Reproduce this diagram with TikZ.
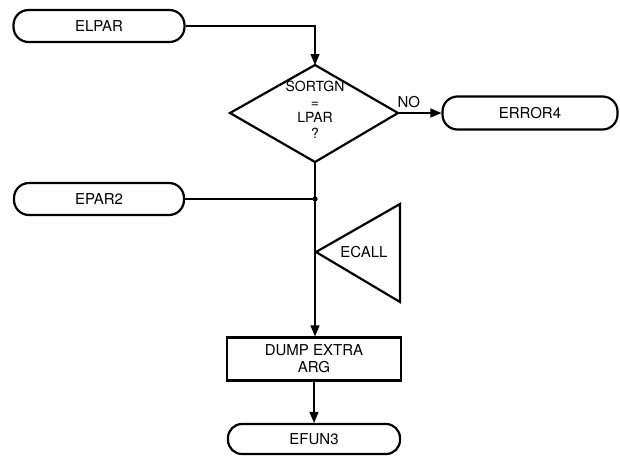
\documentclass[tikz,border=0pt]{standalone}
\usepackage{fontspec}
\setmainfont{TeX Gyre Heros}
\usetikzlibrary{arrows.meta,calc}
\begin{document}
\begin{tikzpicture}[x=1pt,y=-1pt,
  line width=2.2pt,
  every node/.style={font=\fontsize{15}{16}\selectfont},
  term/.style={draw,rounded corners=15pt,minimum width=171pt,minimum height=32pt,inner sep=0pt},
  procbox/.style={draw,minimum width=174pt,minimum height=43pt,inner sep=0pt,align=center},
  flow/.style={-{Triangle[length=11pt,width=9pt]}},
  plain/.style={line width=1.3pt}]
\useasboundingbox (0,0) rectangle (620,458);
\node[term] (elpar) at (99,26) {ELPAR};
\node[term,minimum width=175pt,minimum height=33pt] (err) at (530,113) {ERROR4};
\node[term,minimum width=170pt] (epar) at (99,199) {EPAR2};
\node[term,minimum width=172pt,minimum height=30pt,rounded corners=14pt] (efun) at (314,439) {EFUN3};
\node[procbox,font=\fontsize{15}{17}\selectfont] (dump) at (314,359) {DUMP EXTRA\\ARG};
% diamond
\coordinate (dt) at (315,65);
\coordinate (db) at (315,162);
\coordinate (dl) at (230,113);
\coordinate (dr) at (398,113);
\draw (dt) -- (dr) -- (db) -- (dl) -- cycle;
\node[align=center,inner sep=0pt,font=\fontsize{14}{15.5}\selectfont] (dlab) at (315,110) {SORTGN\\=\\LPAR\\?};
% triangle
\coordinate (tl) at (316,252);
\coordinate (tt) at (400,204);
\coordinate (tb) at (400,302);
\draw (tl) -- (tt) -- (tb) -- cycle;
\node (ecall) at (364,252) {ECALL};
% junction
\coordinate (j) at (315,199);
\fill (j) circle (2.6pt);
% connectors
\draw[plain,flow] (elpar.east) -| (dt);
\draw[plain,flow] (dr) -- (err.west) node[pos=0.25,above=5pt,inner sep=0pt] (no) {NO};
\draw[plain] (epar.east) -- (j);
\draw[plain,flow] (db) -- (dump.north -| db);
\draw[plain,flow] (dump.south) -- (efun.north);
\end{tikzpicture}
\end{document}
